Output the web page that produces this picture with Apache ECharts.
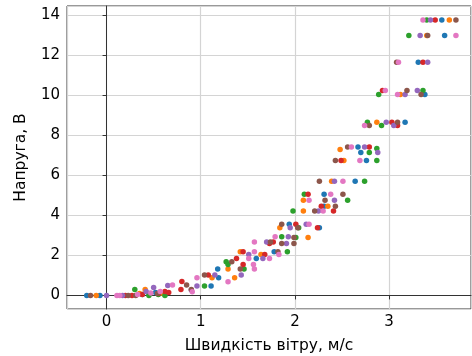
<!DOCTYPE html>
<html><head><meta charset="utf-8">
<script src="https://cdn.jsdelivr.net/npm/echarts@6/dist/echarts.min.js"></script>
<style>html,body{margin:0;padding:0;background:#fff}#c{width:472px;height:356px}</style>
</head><body><div id="c"></div>
<script>
const xTitle = "Швидкість вітру, м/с";
const yTitle = "Напруга, В";
const seriesNames = ["1","2","3","4","5","6","7"];
const colors = ["#1f77b4","#ff7f0e","#2ca02c","#d62728","#9467bd","#8c564b","#e377c2"];

const s1 = [[-0.21,0],[-0.07,0],[0.38,0.05],[0.45,0.1],[0.52,0.15],[0.62,0.05],[1.11,0.47],[1.19,0.88],[1.18,1.32],[1.59,1.85],[1.78,2.18],[1.94,3.56],[2.26,3.38],[2.31,4.46],[2.31,5.06],[2.64,5.71],[2.76,6.75],[2.67,7.42],[2.70,7.14],[3.17,8.66],[3.38,10.05],[3.31,11.66],[3.59,13.0],[3.56,13.77]];
const s2 = [[-0.11,0],[0.35,0.1],[0.41,0.3],[0.6,0.1],[1.12,0.88],[1.29,1.32],[1.36,0.88],[1.42,2.18],[1.64,2.05],[1.84,3.38],[2.14,2.9],[2.09,4.22],[2.09,4.76],[2.35,4.46],[2.39,5.71],[2.52,6.75],[2.48,7.3],[2.87,8.66],[3.12,10.05],[3.40,13.0],[3.64,13.77]];
const s3 = [[0.3,0.3],[0.45,0],[0.55,0.05],[0.62,0],[1.04,0.47],[1.27,1.68],[1.29,1.55],[1.46,1.32],[1.86,2.93],[1.92,2.18],[2.01,2.9],[2.04,3.38],[1.98,4.22],[2.10,5.06],[2.56,4.76],[2.74,5.71],[2.87,6.75],[2.79,7.14],[2.87,7.35],[2.77,8.66],[2.92,8.5],[2.89,10.05],[3.36,10.24],[3.21,13.0],[3.40,13.77]];
const s4 = [[0.20,0],[0.27,0],[0.38,0.05],[0.55,0.1],[0.62,0.2],[0.66,0.15],[0.79,0.3],[0.80,0.7],[1.08,1.02],[1.38,1.85],[1.45,1.55],[1.45,2.18],[1.68,2.05],[1.73,2.6],[1.77,2.67],[2.01,3.56],[2.14,5.06],[2.24,3.38],[2.28,4.46],[2.41,4.22],[2.49,6.75],[2.79,7.42],[2.93,10.24],[3.03,8.66],[3.09,8.5],[3.36,11.66],[3.49,13.77]];
const s5 = [[0.0,0],[0.17,0],[0.42,0.2],[0.50,0.4],[0.65,0.5],[0.90,0.27],[0.96,0.47],[1.15,1.02],[1.43,1.02],[1.51,2.05],[1.66,1.85],[1.70,2.67],[1.91,2.6],[1.93,2.93],[1.95,3.38],[2.12,3.56],[2.25,4.22],[2.42,4.76],[2.42,5.71],[2.74,7.42],[2.88,7.14],[2.97,8.66],[3.05,8.5],[3.17,10.05],[3.30,10.24],[3.41,11.66],[3.33,13.0],[3.44,13.77]];
const s6 = [[-0.17,0],[0.23,0],[0.31,0],[0.54,0.1],[0.85,0.52],[0.90,0.3],[1.04,1.02],[1.33,1.68],[1.42,1.32],[1.74,2.67],[1.82,2.18],[1.86,2.6],[1.99,2.6],[1.99,2.9],[2.03,3.38],[1.86,3.56],[2.21,4.22],[2.32,4.76],[2.43,4.46],[2.51,5.06],[2.26,5.71],[2.43,6.75],[2.56,7.42],[2.79,8.5],[3.09,8.66],[3.19,10.24],[3.34,10.05],[3.08,11.66],[3.41,13.0],[3.71,13.77]];
const s7 = [[0.11,0],[0.14,0],[0.33,0.05],[0.47,0.12],[0.57,0.2],[0.70,0.52],[0.91,0.18],[0.96,0.88],[1.29,0.68],[1.57,1.32],[1.56,1.55],[1.51,1.85],[1.57,2.18],[1.57,2.67],[1.73,1.85],[1.79,2.93],[1.83,2.05],[2.15,3.56],[2.15,4.76],[2.30,4.22],[2.38,5.06],[2.51,5.71],[2.69,6.75],[2.60,7.42],[2.74,8.5],[2.96,10.24],[3.09,10.05],[3.10,11.66],[3.71,13.0],[3.36,13.77]];
const allData = [s1,s2,s3,s4,s5,s6,s7];

const chart = echarts.init(document.getElementById('c'), null, {renderer:'canvas'});
const font = 'DejaVu Sans';
chart.setOption({
  animation:false,
  backgroundColor:'#fff',
  grid:{left:67,right:1,top:6,bottom:47,show:true,borderColor:'#333',borderWidth:1,backgroundColor:'transparent',
    containLabel:false,outerBoundsMode:'none'},
  xAxis:{type:'value',min:-0.42,max:3.87,splitNumber:4,
    name:xTitle,nameLocation:'middle',nameGap:29,
    nameTextStyle:{fontFamily:font,fontSize:15.5,color:'#000'},
    axisLine:{show:true,lineStyle:{color:'#333',width:1}},
    axisTick:{show:true,length:4,lineStyle:{color:'#333'}},
    axisLabel:{fontFamily:font,fontSize:15,color:'#000',margin:6,showMinLabel:false,showMaxLabel:false},
    splitLine:{show:true,lineStyle:{color:'#d4d4d4',width:1.2}}},
  yAxis:{type:'value',min:-0.68,max:14.47,splitNumber:7,
    name:yTitle,nameLocation:'middle',nameGap:38,nameRotate:90,
    nameTextStyle:{fontFamily:font,fontSize:15.5,color:'#000'},
    axisLine:{show:true,lineStyle:{color:'#333',width:1}},
    axisTick:{show:true,length:4,lineStyle:{color:'#333'}},
    axisLabel:{fontFamily:font,fontSize:15,color:'#000',margin:7,showMinLabel:false,showMaxLabel:false},
    splitLine:{show:true,lineStyle:{color:'#d4d4d4',width:1.2}}},
  series: allData.map((d,i)=>({type:'scatter',name:seriesNames[i],data:d,symbolSize:5.5,
    itemStyle:{color:colors[i],opacity:1},z:2+i}))
});
</script></body></html>
